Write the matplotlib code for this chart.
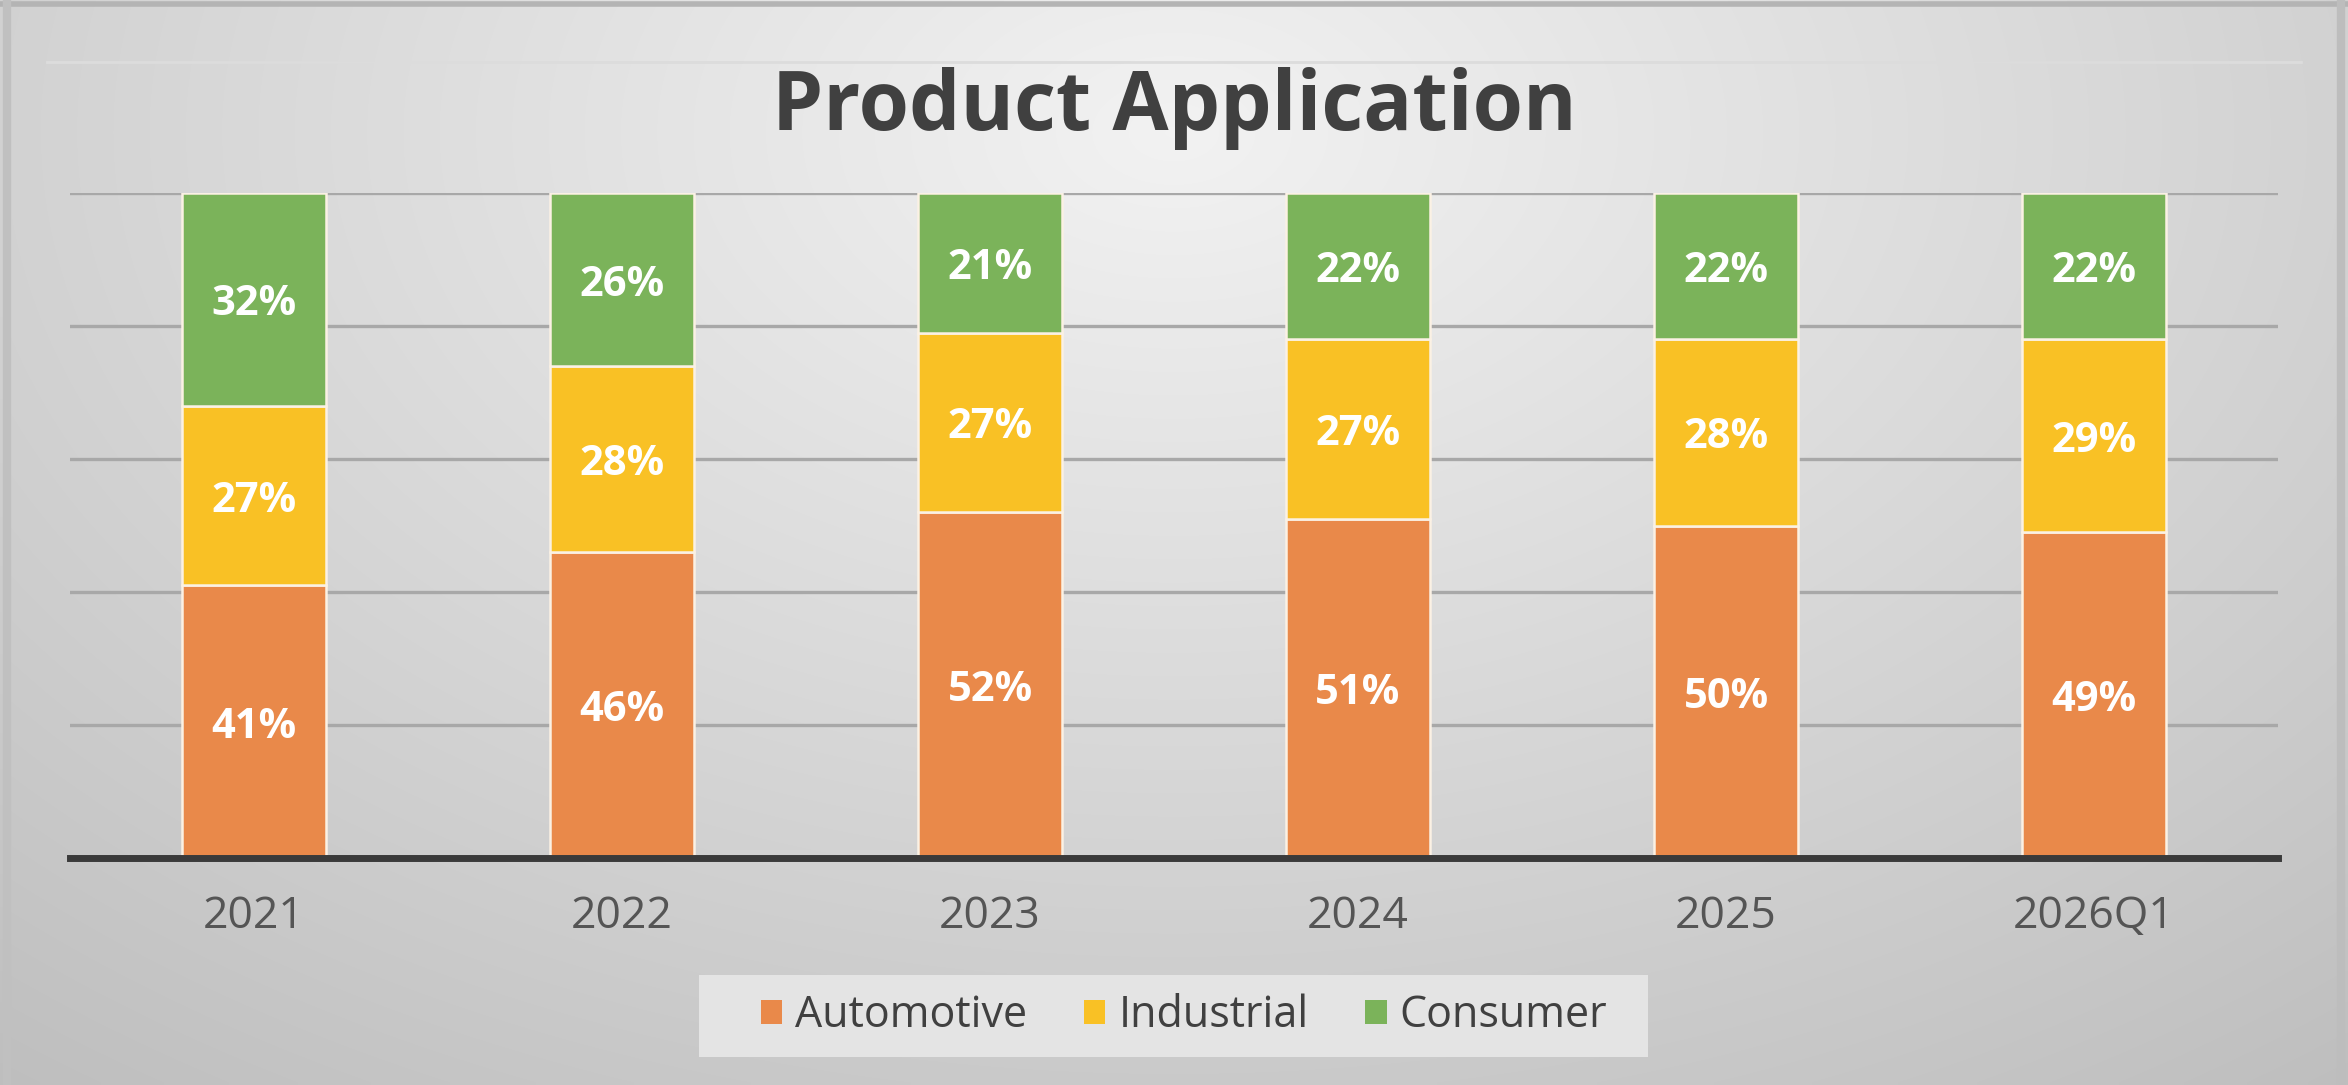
import numpy as np
import matplotlib
matplotlib.use("Agg")
import matplotlib.pyplot as plt
from matplotlib.patches import Patch, Rectangle

# data (percent)
periods = ["2021", "2022", "2023", "2024", "2025", "2026Q1"]
automotive = [41, 46, 52, 51, 50, 49]
industrial = [27, 28, 27, 27, 28, 29]
consumer = [32, 26, 21, 22, 22, 22]

series_names = ["Automotive", "Industrial", "Consumer"]
colors = ["#E9894A", "#F9C125", "#7BB35A"]

plt.rcParams['font.family'] = ['Open Sans', 'DejaVu Sans']

W, H = 2348, 1085
fig = plt.figure(figsize=(W / 100, H / 100), dpi=100)

# gradient background (light top centre, darker toward the edges)
bg = fig.add_axes([0, 0, 1, 1], zorder=0)
gx, gy = np.meshgrid(np.linspace(0, 1, 400), np.linspace(0, 1, 200))
r = np.sqrt(((gx - 0.5) / 0.75) ** 2 + ((gy - 0.12) / 1.05) ** 2)
shade = np.clip(0.95 - 0.19 * r, 0, 1)
img = np.dstack([shade, shade, shade])
bg.imshow(img, aspect='auto', extent=[0, 1, 1, 0], interpolation='bilinear')
bg.set_xlim(0, 1)
bg.set_ylim(1, 0)
bg.axis('off')
# thin darker frame at the top / left / right
bg.plot([0, 1], [0.004, 0.004], color='#b4b4b4', lw=4)
bg.plot([0.003, 0.003], [0, 1], color='#c0c0c0', lw=6)
bg.plot([0.997, 0.997], [0, 1], color='#bdbdbd', lw=6)
bg.plot([0.02, 0.98], [62 / H, 62 / H], color='#dcdcdc', lw=2)

ax = fig.add_axes([70 / W, 1 - 858 / H, (2278 - 70) / W, (858 - 193) / H], zorder=1)
ax.patch.set_alpha(0)

x = np.arange(len(periods))
bottom = np.zeros(len(periods))
for name, vals, c in zip(series_names, [automotive, industrial, consumer], colors):
    vals = np.array(vals, dtype=float)
    bars = ax.bar(x, vals, 0.39, bottom=bottom, color=c, edgecolor='#fbf1e4',
                  linewidth=1.8, label=name, zorder=3)
    for xi, b, v in zip(x, bottom, vals):
        ax.annotate(f"{int(v)}%", (xi, b + v / 2), xytext=(0, -4), textcoords='offset points',
                    ha='center', va='center', color='white', fontsize=30,
                    fontweight='bold', zorder=4)
    bottom += vals

ax.set_xlim(-0.5, len(periods) - 0.5)
ax.set_ylim(0, 100)
ax.set_yticks([0, 20, 40, 60, 80, 100])
ax.yaxis.grid(True, color='#a8a8a8', linewidth=2.4, zorder=1)
ax.set_axisbelow(True)
ax.set_yticklabels([])
ax.tick_params(axis='y', length=0)
ax.set_xticks(x)
ax.set_xticklabels(periods, fontsize=32, color='#555555')
ax.tick_params(axis='x', length=0, pad=26)
for s in ['top', 'right', 'left']:
    ax.spines[s].set_visible(False)
ax.spines['bottom'].set_color('#3a3a3a')
ax.spines['bottom'].set_linewidth(5)
ax.spines['bottom'].set_zorder(5)

fig.text(0.5, 1 - 108 / H, "Product Application", ha='center', va='center',
         fontsize=58.7, fontweight='bold', color='#404040')

# legend box
fig.patches.append(Rectangle((699 / W, 1 - 1057 / H), 949 / W, 82 / H,
                             transform=fig.transFigure, facecolor='#e4e4e4',
                             edgecolor='none', zorder=1))
handles = [Patch(facecolor=c, edgecolor='none') for c in colors]
leg = fig.legend(handles, series_names, loc='center', bbox_to_anchor=(1184 / W, 1 - 1016 / H),
                 ncol=3, frameon=False, fontsize=31, handlelength=0.5, handleheight=0.5,
                 handletextpad=0.3, columnspacing=1.32, borderpad=0)
for t in leg.get_texts():
    t.set_color('#404040')
leg.set_zorder(6)

fig.savefig("out.png", dpi=100)
